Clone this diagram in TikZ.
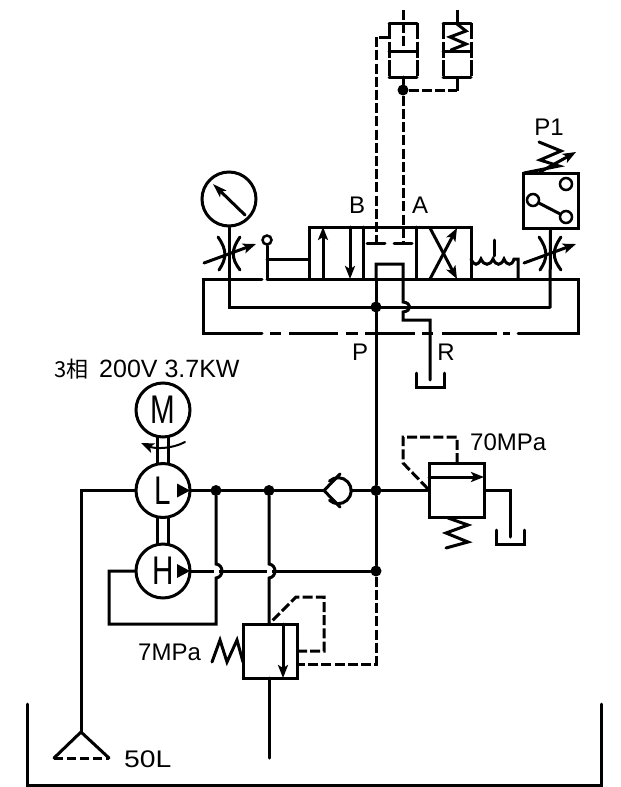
\documentclass[tikz,border=0pt]{standalone}
\usepackage{fontspec}
\setmainfont{Liberation Sans}
\newfontfamily\cjkfont{Noto Sans CJK JP}
\usetikzlibrary{arrows.meta,calc}
\tikzset{
  ln/.style={line width=3pt,line cap=round,line join=miter},
  pilot/.style={ln,line cap=butt,dash pattern=on 10pt off 3.2pt},
  lab/.style={inner sep=0pt,font=\fontsize{24}{24}\selectfont},
  round sym/.style={circle,draw,line width=3pt,minimum size=54pt,inner sep=0pt,font=\fontsize{40}{40}\selectfont},
  squarebox/.style={rectangle,draw,line width=3pt,minimum width=#1,minimum height=54pt,inner sep=0pt},
  junct/.style={circle,fill=black,minimum size=11pt,inner sep=0pt},
  small ring/.style={circle,draw,line width=2.5pt,minimum size=#1,inner sep=0pt,fill=white},
  arrowed/.style={-{Stealth[length=13pt,width=10pt,inset=3pt]}},
  tip small/.style={-{Stealth[length=14pt,width=9pt,inset=3pt]}}
}
\newcommand{\nar}[1]{\scalebox{.74}[1]{#1}}
\begin{document}
\begin{tikzpicture}[x=1pt,y=-1pt]
\useasboundingbox (0,0) rectangle (621,787);
% ---------- cylinders
\coordinate (cyl1c) at (403,77);
\coordinate (cyl2c) at (457,77);
\draw[pilot,dash pattern=on 16pt off 2.5pt] (389,23) -- (389,77) (417,23) -- (417,77);
\draw[pilot,dash pattern=on 16pt off 2.5pt] (443,23) -- (443,77) (471,23) -- (471,77);
\draw[ln] (389,23) -- (417,23) (389,51) -- (417,51) (389,77) -- (417,77);
\draw[ln] (443,23) -- (471,23) (443,51) -- (471,51) (443,77) -- (471,77);
\draw[pilot] (403,10) -- (403,51);
\draw[ln,line cap=butt] (457,10) -- (457,23);
\draw[ln] (457,24) -- (466,31) -- (450,37) -- (466,44) -- (451,50);
\node[junct] (jcyl) at (403,90) {};
\draw[ln] (cyl1c) -- (jcyl);
\draw[pilot] (jcyl) -- (457,90);
\draw[ln,line cap=butt] (457,91) -- (cyl2c);
\draw[pilot] (389,37) -- (376,37) -- (376,243);
\draw[pilot] (jcyl) -- (403,243);
\draw[ln] (367,243) -- (385,243) (394,243) -- (412,243);
% ---------- directional valve
\draw[ln] (309,279) -- (309,227) -- (471,227) -- (471,279);
\draw[ln] (363,227) -- (363,279) (416,227) -- (416,279);
\draw[ln,arrowed] (323,279) -- (323,227);
\draw[ln,arrowed] (350,227) -- (350,279);
\draw[ln,arrowed] (430,279) -- (457,228);
\draw[ln,arrowed] (430,228) -- (457,279);
\node[lab] (lbB) at (357,205) {B};
\node[lab] (lbA) at (420,205) {A};
% ---------- solenoid
\draw[ln] (471,259) .. controls (474,266) and (478,266) .. (481,259)
  .. controls (484,266) and (490,266) .. (493,259)
  .. controls (496,266) and (501,266) .. (504,259)
  .. controls (507,266) and (512,266) .. (514,259) -- (518,259) -- (518,279);
\draw[ln] (494,240) -- (494,256);
% ---------- manifold
\draw[ln] (262,279) -- (203,279) -- (203,333) -- (262,333);
\draw[ln] (267,279) -- (578,279) -- (578,333) -- (518,333);
\draw[ln,line cap=butt] (270,333) -- (281,333) (289,333) -- (338,333) (346,333) -- (358,333)
  (365,333) -- (415,333) (422,333) -- (433,333) (442,333) -- (497,333) (503,333) -- (510,333);
\node[small ring=9pt] (ring) at (267,240) {};
\draw[ln] (ring) -- (267,279);
\draw[ln] (267,259) -- (309,259);
% ---------- gauge
\node[round sym] (gauge) at (229,199) {};
\draw[ln] (gauge.south) -- (229,307) -- (550,307);
\draw[ln,tip small] (245,215) -- (213,184);
\draw[ln] (218,237) .. controls (227,250) and (227,258) .. (219,270);
\draw[ln] (240,237) .. controls (231,250) and (231,258) .. (240,270);
\draw[ln,arrowed] (204,263) -- (256,244);
% ---------- pressure switch
\node[rectangle,draw,line width=3pt,minimum width=55pt,minimum height=55pt,inner sep=0pt] (psw) at (550.5,200.5) {};
\draw[ln] (psw.south) -- (550,307);
\node[small ring=12pt] (c1) at (566,184) {};
\node[small ring=12pt] (c2) at (533,200) {};
\node[small ring=12pt] (c3) at (566,217) {};
\draw[ln] (c2) -- (c3);
\draw[ln] (539,142) -- (561,151) -- (540,160) -- (559,166) -- (524,173);
\draw[ln,arrowed] (540,172) -- (576,152);
\node[lab] (lbP1) at (549,127) {P1};
\draw[ln] (539,237) .. controls (548,250) and (548,258) .. (540,270);
\draw[ln] (561,237) .. controls (552,250) and (552,258) .. (561,270);
\draw[ln,arrowed] (524,263) -- (576,244);
% ---------- main pressure line and return
\draw[ln] (376,279) -- (376,264) -- (403,264) -- (403,302)
  .. controls (412,303) and (412,311) .. (403,312) -- (403,320) -- (430,320) -- (430,380);
\draw[ln] (416,373) -- (416,387) -- (444,387) -- (444,373);
\node[lab] (lbP) at (360,352) {P};
\node[lab] (lbR) at (446,352) {R};
\node[junct] (j1) at (376,307) {};
\node[junct] (j2) at (376,490.5) {};
\node[junct] (j3) at (376,571) {};
\draw[ln] (376,279) -- (j1) -- (j2) -- (j3);
% ---------- motor & pumps
\node[round sym] (M) at (163,410) {\nar{M}};
\node[round sym] (L) at (163,490.5) {\nar{L}};
\node[round sym] (H) at (163,571) {\nar{H}};
\draw[ln,line cap=butt] (157,437) -- (157,463) (168,437) -- (168,463)
  (157,517) -- (157,544) (168,517) -- (168,544);
\draw[ln,line width=2pt,arrowed] (185,442) .. controls (172,449) and (155,449) .. (141,443);
\fill (177,483.5) -- (190,490.5) -- (177,497.5) -- cycle;
\fill (177,564) -- (190,571) -- (177,578) -- cycle;
\node[lab,anchor=west,font=\cjkfont\fontsize{22}{22}\selectfont] (lbPhase) at (54,369) {3相};
\node[lab,anchor=west,font=\fontsize{25}{25}\selectfont] (lbMot) at (99,369) {200V 3.7KW};
% ---------- suction side
\coordinate (strainer) at (81,732);
\draw[ln] (L.west) -- (81,490.5) -- (strainer);
\draw[ln] (54,758) -- (strainer) -- (109,758);
\draw[pilot,dash pattern=on 9pt off 4pt] (54,758) -- (109,758);
\node[lab,anchor=west] (lb50) at (124,759) {\scalebox{1.18}[1]{50L}};
\draw[ln] (27,704) -- (27,785) -- (601,785) -- (601,704);
% ---------- pressure lines
\node[junct] (jL1) at (216,490.5) {};
\node[junct] (jL2) at (269,490.5) {};
\coordinate (chkE) at (351,490.5);
\draw[ln] (190,490.5) -- (jL1) -- (jL2) -- (324,490.5);
\draw[ln] (chkE) -- (j2);
\draw[ln] (340,474) -- (324,490.5) -- (340,507);
\draw[ln] (329.5,481) arc[start angle=132,end angle=-132,radius=13pt];
\draw[ln] (j3) -- (190,571);
% hops on the two verticals
\draw[white,line width=5pt,line cap=butt] (216,564) -- (216,578) (269,564) -- (269,578);
\draw[ln] (jL1) -- (216,564) .. controls (224,565) and (224,577) .. (216,578) -- (216,624)
  -- (109,624) -- (109,571) -- (H.west);
\draw[ln] (jL2) -- (269,564) .. controls (277,565) and (277,577) .. (269,578) -- (269,624);
% ---------- relief valve 70 MPa
\node[squarebox=55pt] (rv) at (456.5,490.5) {};
\draw[ln] (j2) -- (rv.west);
\draw[ln,arrowed] (429,477) -- (484,477);
\draw[ln] (rv.east) -- (510,490.5) -- (510,537);
\draw[ln] (496,530) -- (496,544) -- (524,544) -- (524,530);
\draw[ln] (448,518) -- (468,525) -- (446,533) -- (468,542) -- (446,548);
\draw[pilot] (457,463) -- (457,437) -- (403,437) -- (403,463) -- (429,490);
\node[lab,anchor=west] (lb70) at (470,442) {70MPa};
% ---------- pressure reducing valve 7 MPa
\node[squarebox=54pt] (red) at (270,651) {};
\draw[ln] (269,678) -- (269,758);
\draw[ln,arrowed] (283,624) -- (283,678);
\draw[ln] (212,662) -- (220,640) -- (227,662) -- (237,640) -- (243,662);
\draw[pilot] (297,651) -- (324,651) -- (324,597) -- (296,597) -- (270,623);
\draw[pilot] (j3) -- (376,664) -- (297,664);
\node[lab,anchor=west] (lb7) at (138,652) {7MPa};
\end{tikzpicture}
\end{document}
